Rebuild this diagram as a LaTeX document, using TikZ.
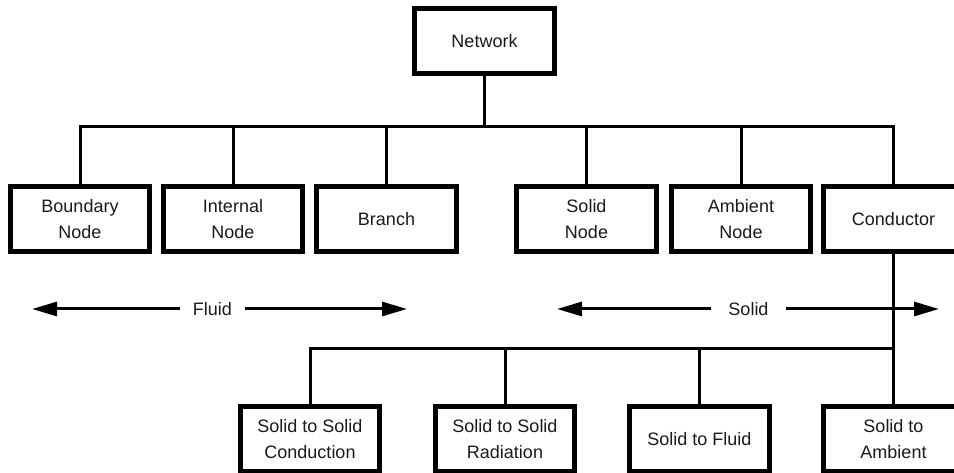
\documentclass[tikz,border=0pt]{standalone}
\usepackage{fontspec}
\setmainfont{Liberation Sans}
\usetikzlibrary{arrows.meta}
\definecolor{txt}{HTML}{1A1A1A}
\tikzset{
  box/.style={draw=black, line width=3.4pt, fill=white, minimum width=138pt, minimum height=64pt,
    inner sep=0pt, align=center, text=txt, font=\fontsize{18}{26}\selectfont},
  conn/.style={line width=3pt, line cap=rect},
  lab/.style={inner sep=0pt, text=txt, font=\fontsize{18}{22}\selectfont},
  dblarrow/.style={line width=3pt, -{Triangle[length=25pt,width=14pt]}}
}
\begin{document}
\begin{tikzpicture}[x=1pt,y=-1pt]
\useasboundingbox (0,0) rectangle (954,473);
\clip (0,0) rectangle (954,473);
\coordinate (busT) at (484.5,127);
\coordinate (busB) at (484.5,349);
\coordinate (fluidL) at (32,309);
\coordinate (fluidR) at (407,309);
\coordinate (solidL) at (557,309);
\coordinate (solidR) at (939,309);
% nodes
\node[box] (net) at (484.5,41) {Network};
\node[box] (boundary) at (80,219) {Boundary\\Node};
\node[box] (internal) at (233,219) {Internal\\Node};
\node[box] (branch) at (386.5,219) {Branch};
\node[box] (solidnode) at (586.5,219) {Solid\\Node};
\node[box] (ambient) at (741,219) {Ambient\\Node};
\node[box] (conductor) at (893.5,219) {Conductor};
\node[box] (ssc) at (310,439) {Solid to Solid\\Conduction};
\node[box] (ssr) at (505,439) {Solid to Solid\\Radiation};
\node[box] (stf) at (699.5,439) {Solid to Fluid};
\node[box] (sta) at (893.5,439) {Solid to\\Ambient};
\node[lab, minimum width=65pt] (fluid) at (212.5,309) {Fluid};
\node[lab, minimum width=75pt] (solid) at (748.5,309) {Solid};
% top tree
\draw[conn] (net.south) -- (net.south |- busT);
\draw[conn] (boundary.north) |- (conductor.north |- busT) -- (conductor.north);
\foreach \n in {internal,branch,solidnode,ambient}
  \draw[conn] (\n.north) -- (\n.north |- busT);
% bottom tree
\draw[conn] (conductor.south) -- (sta.north);
\draw[conn] (ssc.north) |- (conductor.south |- busB);
\foreach \n in {ssr,stf}
  \draw[conn] (\n.north) -- (\n.north |- busB);
% arrows
\draw[dblarrow] (fluid.west) -- (fluidL);
\draw[dblarrow] (fluid.east) -- (fluidR);
\draw[dblarrow] (solid.west) -- (solidL);
\draw[dblarrow] (solid.east) -- (solidR);
% redraw box borders on top of the connector ends
\foreach \n in {net,boundary,internal,branch,solidnode,ambient,conductor,ssc,ssr,stf,sta}
  \draw[line width=3.4pt] (\n.south west) rectangle (\n.north east);
\end{tikzpicture}
\end{document}
